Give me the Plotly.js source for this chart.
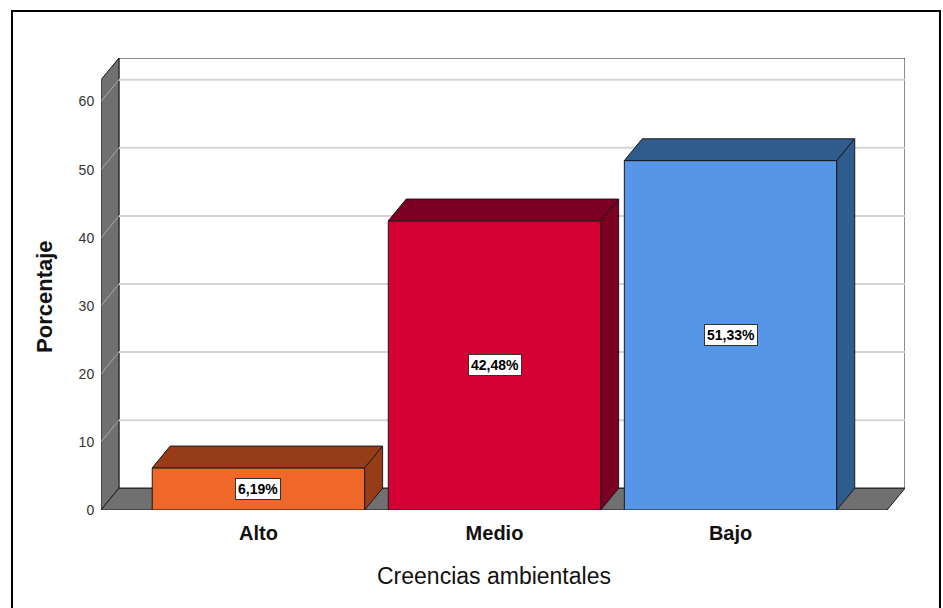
<!DOCTYPE html>
<html><head><meta charset="utf-8">
<script src="https://cdn.plot.ly/plotly-3.0.1.min.js"></script>
<style>html,body{margin:0;padding:0;background:#fff;} #chart{width:943px;height:608px;}</style>
</head><body><div id="chart"></div>
<script>
// ---- data ----
const categories = ['Alto', 'Medio', 'Bajo'];
const percentages = [6.19, 42.48, 51.33];
const valueLabels = ['6,19%', '42,48%', '51,33%'];
const yTicks = [0, 10, 20, 30, 40, 50, 60];
const xTitle = 'Creencias ambientales';
const yTitle = 'Porcentaje';

// ---- styling ----
const frontColors = ['#F0672A', '#D50032', '#5596E6'];
const shadeColors = ['#963C17', '#7C0022', '#2F5B8D'];
const FONT = 'Liberation Sans, Arial, sans-serif';

const X0 = -0.667, X1 = 2.739, YTOP = 66.4;
const DX = 0.076, DY = 3.2, HW = 0.45;
const xpos = categories.map((c, i) => i);

const traces = [{
  type: 'bar', x: xpos, y: percentages, width: HW * 2,
  marker: {color: frontColors, line: {color: '#1a1a1a', width: 1}},
  hoverinfo: 'y', showlegend: false
}];
percentages.forEach((v, i) => {
  const xl = xpos[i] - HW, xr = xpos[i] + HW;
  traces.push({
    type: 'scatter', mode: 'lines', fill: 'toself', fillcolor: shadeColors[i],
    x: [xl, xl + DX, xr + DX, xr, xl], y: [v, v + DY, v + DY, v, v],
    line: {color: '#1a1a1a', width: 1}, hoverinfo: 'skip', showlegend: false
  });
  traces.push({
    type: 'scatter', mode: 'lines', fill: 'toself', fillcolor: shadeColors[i],
    x: [xr, xr + DX, xr + DX, xr, xr], y: [0, DY, v + DY, v, 0],
    line: {color: '#1a1a1a', width: 1}, hoverinfo: 'skip', showlegend: false
  });
});

const shapes = [
  {type: 'rect', xref: 'x', yref: 'y', layer: 'below', x0: X0 + DX, x1: X1, y0: DY, y1: YTOP,
   fillcolor: '#ffffff', line: {color: '#1a1a1a', width: 1}},
  {type: 'path', xref: 'x', yref: 'y', layer: 'below',
   path: `M${X0},0 L${X0},${YTOP - DY} L${X0 + DX},${YTOP} L${X0 + DX},${DY} Z`,
   fillcolor: '#707070', line: {color: '#1a1a1a', width: 1}},
  {type: 'path', xref: 'x', yref: 'y', layer: 'below',
   path: `M${X0},0 L${X0 + DX},${DY} L${X1},${DY} L${X1 - DX},0 Z`,
   fillcolor: '#707070', line: {color: '#1a1a1a', width: 1}}
];
yTicks.filter(t => t > 0).forEach(t => {
  shapes.push({type: 'line', xref: 'x', yref: 'y', layer: 'below',
    x0: X0 + DX, x1: X1, y0: t + DY, y1: t + DY, line: {color: '#D4D4D4', width: 2}});
  shapes.push({type: 'line', xref: 'x', yref: 'y', layer: 'below',
    x0: X0, x1: X0 + DX, y0: t, y1: t + DY, line: {color: '#A9A9A9', width: 1}});
});
// outer frame
shapes.push({type: 'rect', xref: 'paper', yref: 'paper', layer: 'above',
  x0: -0.1107, x1: 1.0435, y0: -0.2257, y1: 1.104, line: {color: '#000', width: 2}});

const annotations = percentages.map((v, i) => ({
  x: xpos[i], y: v / 2, xref: 'x', yref: 'y', text: valueLabels[i], showarrow: false,
  font: {family: FONT, size: 14, color: '#000', weight: 'bold'},
  bgcolor: '#ffffff', bordercolor: '#333', borderwidth: 1, borderpad: 2
}));
// axis titles (centred on the front plane, as in the original)
annotations.push({
  xref: 'paper', yref: 'paper', x: 0.4888, y: -0.146, xanchor: 'center', yanchor: 'middle',
  text: xTitle, showarrow: false, font: {family: FONT, size: 23, color: '#111'}
});
annotations.push({
  xref: 'paper', yref: 'paper', x: -0.0697, y: 0.4735, xanchor: 'center', yanchor: 'middle',
  text: yTitle, textangle: -90, showarrow: false,
  font: {family: FONT, size: 22, color: '#111', weight: 'bold'}
});

const layout = {
  width: 943, height: 608,
  margin: {l: 101, r: 38, t: 58, b: 98},
  paper_bgcolor: '#fff', plot_bgcolor: 'rgba(0,0,0,0)',
  font: {family: FONT, color: '#000'},
  showlegend: false,
  xaxis: {
    range: [X0, X1], tickvals: xpos, ticktext: categories,
    tickfont: {family: FONT, size: 20, weight: 'bold', color: '#111'},
    ticks: 'outside', ticklen: 5, tickcolor: 'rgba(0,0,0,0)',
    showgrid: false, zeroline: false, showline: false, automargin: false, fixedrange: true
  },
  yaxis: {
    range: [0, YTOP], tickvals: yTicks, ticktext: yTicks.map(String),
    tickfont: {family: FONT, size: 14, color: '#333'},
    ticks: 'outside', ticklen: 3, tickcolor: 'rgba(0,0,0,0)',
    showgrid: false, zeroline: false, showline: false, automargin: false, fixedrange: true
  },
  shapes: shapes,
  annotations: annotations
};

Plotly.newPlot('chart', traces, layout, {displayModeBar: false, staticPlot: true});
</script>
</body></html>
